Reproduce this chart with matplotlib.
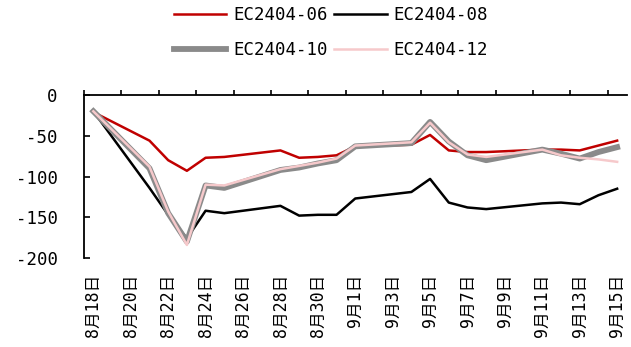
import numpy as np
import pandas as pd
import matplotlib
matplotlib.use('Agg')
import matplotlib.pyplot as plt
from matplotlib.font_manager import FontProperties

plt.rcParams['axes.unicode_minus'] = False

# 交易日
dates = ['2023-08-18', '2023-08-21', '2023-08-22', '2023-08-23', '2023-08-24',
         '2023-08-25', '2023-08-28', '2023-08-29', '2023-08-30', '2023-08-31',
         '2023-09-01', '2023-09-04', '2023-09-05', '2023-09-06', '2023-09-07',
         '2023-09-08', '2023-09-11', '2023-09-12', '2023-09-13', '2023-09-14',
         '2023-09-15']

ec06 = [-21, -56, -80, -93, -77, -76, -68, -77, -76, -74, -63,
        -61, -49, -68, -70, -70, -67, -67, -68, -62, -56]
ec08 = [-20, -114, -147, -176, -142, -145, -136, -148, -147, -147, -127,
        -119, -103, -132, -138, -140, -133, -132, -134, -123, -115]
ec10 = [-20, -90, -145, -180, -111, -114, -92, -89, -84, -80, -63,
        -59, -33, -57, -74, -80, -67, -72, -78, -70, -64]
ec12 = [-20, -88, -143, -184, -110, -111, -91, -87, -83, -78, -62,
        -58, -34, -58, -73, -76, -67, -74, -77, -79, -82]

series_names = ['EC2404-06', 'EC2404-08', 'EC2404-10', 'EC2404-12']

x_labels = ['8月18日', '8月20日', '8月22日', '8月24日', '8月26日', '8月28日',
            '8月30日', '9月1日', '9月3日', '9月5日', '9月7日', '9月9日',
            '9月11日', '9月13日', '9月15日']
y_ticks = [-200, -150, -100, -50, 0]

d = pd.to_datetime(dates)
x = np.array((d - d[0]).days)

fig = plt.figure(figsize=(6.31, 3.47), dpi=100)
ax = fig.add_axes([84 / 631, 1 - 258 / 347, (626.5 - 84) / 631, (258 - 95) / 347])

l1, = ax.plot(x, ec06, color='#C00000', lw=1.8, label=series_names[0])
l2, = ax.plot(x, ec08, color='#000000', lw=1.8, label=series_names[1])
l3, = ax.plot(x, ec10, color='#8A8A8A', lw=4.2, label=series_names[2])
l4, = ax.plot(x, ec12, color='#F6C9CB', lw=1.8, label=series_names[3])

ax.set_xlim(-0.5, 28.5)
ax.set_ylim(-200, 0)

mono = FontProperties(family='DejaVu Sans Mono', size=12.5)

# 刻度线在上方(0轴)，标签放在下方
ax.set_xticks(np.arange(-0.5, 28.5, 2))
ax.set_xticks(np.arange(0, 29, 2), minor=True)
ax.set_xticklabels(x_labels, minor=True, rotation=90,
                   family=['DejaVu Sans Mono', 'Noto Sans CJK SC'], fontsize=12)
ax.tick_params(axis='x', which='major', top=True, bottom=False,
               labelbottom=False, labeltop=False, direction='out',
               length=3.6, width=1.2)
ax.tick_params(axis='x', which='minor', top=False, bottom=False,
               labelbottom=True, length=0, pad=11)

ax.set_yticks(y_ticks)
ax.set_yticklabels([str(v) for v in y_ticks], fontproperties=mono)
ax.tick_params(axis='y', direction='in', length=4.3, width=1.2, pad=19)

for s in ['bottom', 'right']:
    ax.spines[s].set_visible(False)
for s in ['top', 'left']:
    ax.spines[s].set_linewidth(1.3)

fig.legend([l1, l3, l2, l4],
           [series_names[0], series_names[2], series_names[1], series_names[3]],
           ncol=2, loc='center', bbox_to_anchor=(331 / 631, 1 - 32.5 / 347),
           frameon=False, prop=mono, handlelength=3.0, handletextpad=0.4,
           columnspacing=0.4, labelspacing=0.95, borderpad=0)

fig.savefig('out.png', dpi=100)
